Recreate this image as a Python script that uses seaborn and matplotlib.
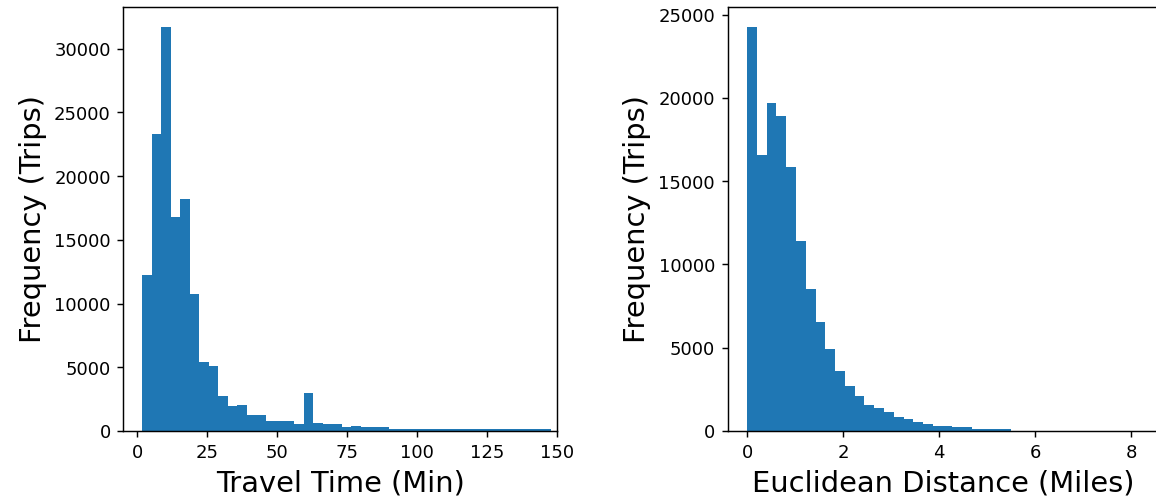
import numpy as np
import pandas as pd
import matplotlib
matplotlib.use("Agg")
import matplotlib.pyplot as plt
import seaborn as sns

# Histogram counts (trips per bin)
travel_counts = [12260, 23290, 31700, 16820, 18210, 10740, 5400, 5110, 2750, 1940,
                 2070, 1230, 1230, 810, 810, 810, 550, 3010, 660, 550,
                 550, 290, 420, 290, 290, 290, 170, 160, 160, 150,
                 150, 150, 140, 140, 140, 130, 130, 130, 130, 120,
                 120, 120, 120]
travel_range = (1.8, 147.7)  # minutes
travel_ticks = [0, 25, 50, 75, 100, 125, 150]

dist_counts = [24250, 16570, 19720, 18900, 15830, 11380, 8540, 6530, 4950, 3590,
               2730, 2100, 1580, 1380, 1160, 860, 740, 520, 420, 320,
               320, 220, 220, 100, 100, 100, 100, 10, 8, 5,
               4, 3, 2, 2, 1, 1, 1, 1, 1, 1]
dist_range = (0.0, 8.14)  # miles

blue = "#1f77b4"

fig = plt.figure(figsize=(1156.4 / 130, 498.4 / 130), dpi=130)
ax1 = fig.add_axes([0.1067, 0.1345, 0.4820 - 0.1067, 0.9853 - 0.1345])
ax2 = fig.add_axes([0.6292, 0.1345, 1.0020 - 0.6292, 0.9853 - 0.1345])


def draw_hist(ax, counts, rng):
    edges = np.linspace(rng[0], rng[1], len(counts) + 1)
    df = pd.DataFrame({"x": (edges[:-1] + edges[1:]) / 2, "n": counts})
    sns.histplot(data=df, x="x", weights="n", bins=len(counts), binrange=rng,
                 ax=ax, color=blue, alpha=1, edgecolor="none", linewidth=0)


draw_hist(ax1, travel_counts, travel_range)
ax1.set_xticks(travel_ticks)
ax1.set_xlim(-5, 150)
ax1.set_ylim(0, max(travel_counts) * 1.05)
ax1.set_xlabel("Travel Time (Min)", fontsize=16)
ax1.set_ylabel("Frequency (Trips)", fontsize=16)

draw_hist(ax2, dist_counts, dist_range)
ax2.set_xlim(-0.407, 8.57)
ax2.set_ylim(0, max(dist_counts) * 1.05)
ax2.set_xlabel("Euclidean Distance (Miles)", fontsize=16)
ax2.set_ylabel("Frequency (Trips)", fontsize=16)

fig.savefig("out.png", dpi=130)
